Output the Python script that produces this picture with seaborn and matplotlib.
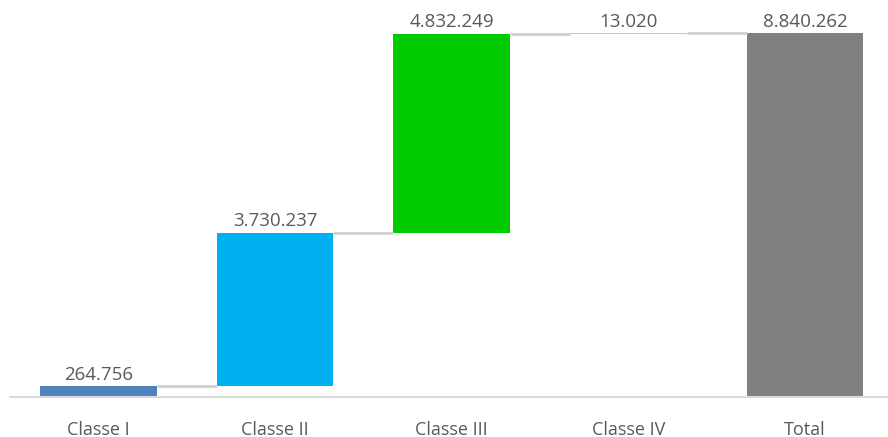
import numpy as np
import pandas as pd
import seaborn as sns
import matplotlib.pyplot as plt

# waterfall data
categories = ['Classe I', 'Classe II', 'Classe III', 'Classe IV', 'Total']
steps = [264756, 3730237, 4832249, 13020]
labels = ['264.756', '3.730.237', '4.832.249', '13.020', '8.840.262']
colors = ['#4F81BD', '#00B0F0', '#00CC00', '#C9C6B4', '#808080']

ends = np.cumsum(steps)
starts = np.concatenate([[0], ends[:-1]])
tops = list(ends) + [ends[-1]]
bottoms = list(starts) + [0]

df = pd.DataFrame({'cat': categories, 'top': tops, 'bottom': bottoms, 'label': labels})

sns.set_style('white')
plt.rcParams['font.family'] = ['Open Sans', 'DejaVu Sans']

fig = plt.figure(figsize=(8.88, 4.37), dpi=100)
ax = fig.add_axes([10 / 888, 40 / 437, 878 / 888, 397 / 437])

bw = 0.66
sns.barplot(data=df, x='cat', y='top', hue='cat', palette=colors, legend=False,
            width=bw, saturation=1, ax=ax, linewidth=0, zorder=2)
# white mask below each floating bar
sns.barplot(data=df, x='cat', y='bottom', color='white', width=bw + 0.01,
            saturation=1, ax=ax, linewidth=0, zorder=3)

# connectors
for i in range(len(categories) - 1):
    ax.plot([i + bw / 2, i + 1 - bw / 2], [tops[i], tops[i]],
            color='#D0D0D0', lw=2, zorder=4, solid_capstyle='butt')

# value labels
for i, row in df.iterrows():
    ax.annotate(row['label'], (i, row['top']), xytext=(0, 1.5), textcoords='offset points',
                ha='center', va='bottom', fontsize=13.5, color='#595959', zorder=5)

ax.set_xlim(-0.5, 4.47)
ax.set_ylim(0, ends[-1] * 397 / 364)
ax.set_xlabel('')
ax.set_ylabel('')
ax.set_yticks([])
for s in ['top', 'right', 'left']:
    ax.spines[s].set_visible(False)
ax.spines['bottom'].set_color('#D9D9D9')
ax.spines['bottom'].set_linewidth(1.5)
ax.spines['bottom'].set_zorder(6)
ax.tick_params(axis='x', length=0, pad=17, labelsize=13, labelcolor='#595959')

fig.savefig('out.png', dpi=100)
